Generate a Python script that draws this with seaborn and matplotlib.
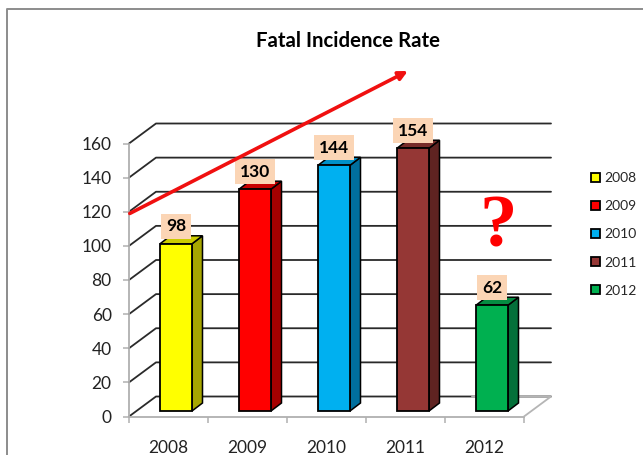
import matplotlib
matplotlib.use("Agg")
import matplotlib.pyplot as plt
from matplotlib.lines import Line2D
from matplotlib.patches import Polygon
from matplotlib.transforms import Affine2D
import pandas as pd
import seaborn as sns

years = ["2008", "2009", "2010", "2011", "2012"]
rates = [98, 130, 144, 154, 62]
face_colors = ["#FFFF00", "#FF0000", "#00B0F0", "#953735", "#00B050"]
side_colors = ["#A6A600", "#A50000", "#006F9E", "#5F2321", "#04703A"]
top_colors = ["#CCCC00", "#C80000", "#0090C8", "#772C2A", "#058C42"]
y_ticks = list(range(0, 161, 20))
title_text = "Fatal Incidence Rate"
arrow_start = (-0.49, 119)
arrow_end = (3.03, 202.5)
question_pos = (4.17, 110)

sns.set_style("white")
plt.rcParams["font.family"] = ["Lato", "DejaVu Sans"]

W, H = 643, 455
fig = plt.figure(figsize=(W / 100, H / 100), dpi=100)
ax = fig.add_axes([129 / W, 1 - 416.5 / H, 395 / W, 273 / H])

df = pd.DataFrame({"year": years, "rate": rates})
sns.barplot(data=df, x="year", y="rate", hue="year", palette=face_colors,
            dodge=False, width=0.405, edgecolor="black", linewidth=1.3,
            saturation=1, ax=ax, zorder=3, legend=True)

ax.set_xlim(-0.5, 4.5)
ax.set_ylim(0, 160)
ux = 395 / 5
uy = 273 / 160
wall_dx, wall_dy = 27 / ux, 20 / uy
bar_dx, bar_dy = 7.5 / ux, 5.5 / uy
depth_dx, depth_dy = 10.5 / ux, 8 / uy

# back wall, floor and grid
x0, x1 = ax.get_xlim()
for v in y_ticks:
    ax.plot([x0, x0 + wall_dx, x1 + wall_dx],
            [v, v + wall_dy, v + wall_dy], color="#2a2a2a", lw=1.3,
            clip_on=False, zorder=1)
ax.plot([x1 + wall_dx - 1.0, x1 + wall_dx, x1], [wall_dy, wall_dy, 0],
        color="#b5b5b5", lw=1.3, clip_on=False, zorder=1.1)

shift = Affine2D().translate(bar_dx, bar_dy) + ax.transData
bars = [b for cont in ax.containers for b in cont]
for bar, side, top in zip(bars, side_colors, top_colors):
    bar.set_transform(shift)
    bar.set_clip_on(False)
    xl, w, h = bar.get_x(), bar.get_width(), bar.get_height()
    xr = xl + w
    ax.add_patch(Polygon([(xr, 0), (xr + depth_dx, depth_dy),
                          (xr + depth_dx, h + depth_dy), (xr, h)],
                         closed=True, facecolor=side, edgecolor="black",
                         lw=1.1, transform=shift, clip_on=False, zorder=2.9))
    ax.add_patch(Polygon([(xl, h), (xl + depth_dx, h + depth_dy),
                          (xr + depth_dx, h + depth_dy), (xr, h)],
                         closed=True, facecolor=top, edgecolor="black",
                         lw=1.1, transform=shift, clip_on=False, zorder=2.9))
    ax.annotate(f"{h:.0f}", (xl + w / 2, h), xycoords=shift,
                xytext=(0, 12.5), textcoords="offset points",
                ha="center", va="center", fontsize=12.5, fontweight="bold",
                color="black", zorder=5,
                bbox=dict(boxstyle="square,pad=0.26", fc="#FBD5B5", ec="none"))

ax.set_xticks([x - 0.5 for x in range(6)], [""] * 6)
for i, lab in enumerate(years):
    ax.text(i, -0.086, lab, transform=ax.get_xaxis_transform(), ha="center",
            va="top", fontsize=12.5, color="#222222")
ax.set_yticks(y_ticks, [str(v) for v in y_ticks])
ax.set_xlabel("")
ax.set_ylabel("")
for s in ["top", "right"]:
    ax.spines[s].set_visible(False)
for s in ["left", "bottom"]:
    ax.spines[s].set_color("#b0b0b0")
    ax.spines[s].set_linewidth(1.3)
    ax.spines[s].set_zorder(1)
ax.tick_params(axis="both", length=4.5, width=1.1, color="#b0b0b0",
               direction="out", left=True, bottom=True)
ax.tick_params(axis="y", labelsize=12.5, labelcolor="#222222", pad=8)
ax.set_facecolor("none")

# annotations
ax.annotate("", xy=arrow_end, xytext=arrow_start, xycoords="data",
            arrowprops=dict(arrowstyle="-|>", color="#F01010", lw=2.6,
                            mutation_scale=13, shrinkA=0, shrinkB=0),
            annotation_clip=False, zorder=6)
ax.text(*question_pos, "?", color="#FF0000", fontsize=54, fontweight="bold",
        family="Liberation Serif", ha="center", va="center", zorder=6)

fig.text(348 / W, 1 - 41 / H, title_text, ha="center", va="center",
         fontsize=14.7, fontweight="bold", color="black")

# legend
handles, labels = ax.get_legend_handles_labels()
leg = ax.legend(handles, labels, loc="center left",
                bbox_to_anchor=(591 / W, 1 - 234.5 / H),
                bbox_transform=fig.transFigure, frameon=False, fontsize=10,
                labelspacing=1.16, handlelength=0.65, handleheight=0.65,
                handletextpad=0.3, borderpad=0, borderaxespad=0)
for h in leg.legend_handles:
    h.set_edgecolor("black")
    h.set_linewidth(1.3)

# outer chart frame
frame_x, frame_y = 7 / W, 1 - 8.5 / H
fig.add_artist(Line2D([frame_x, frame_x, 1], [0, frame_y, frame_y],
                      color="#8c8c8c", lw=1.4))

fig.savefig("out.png", dpi=100, facecolor="white")
